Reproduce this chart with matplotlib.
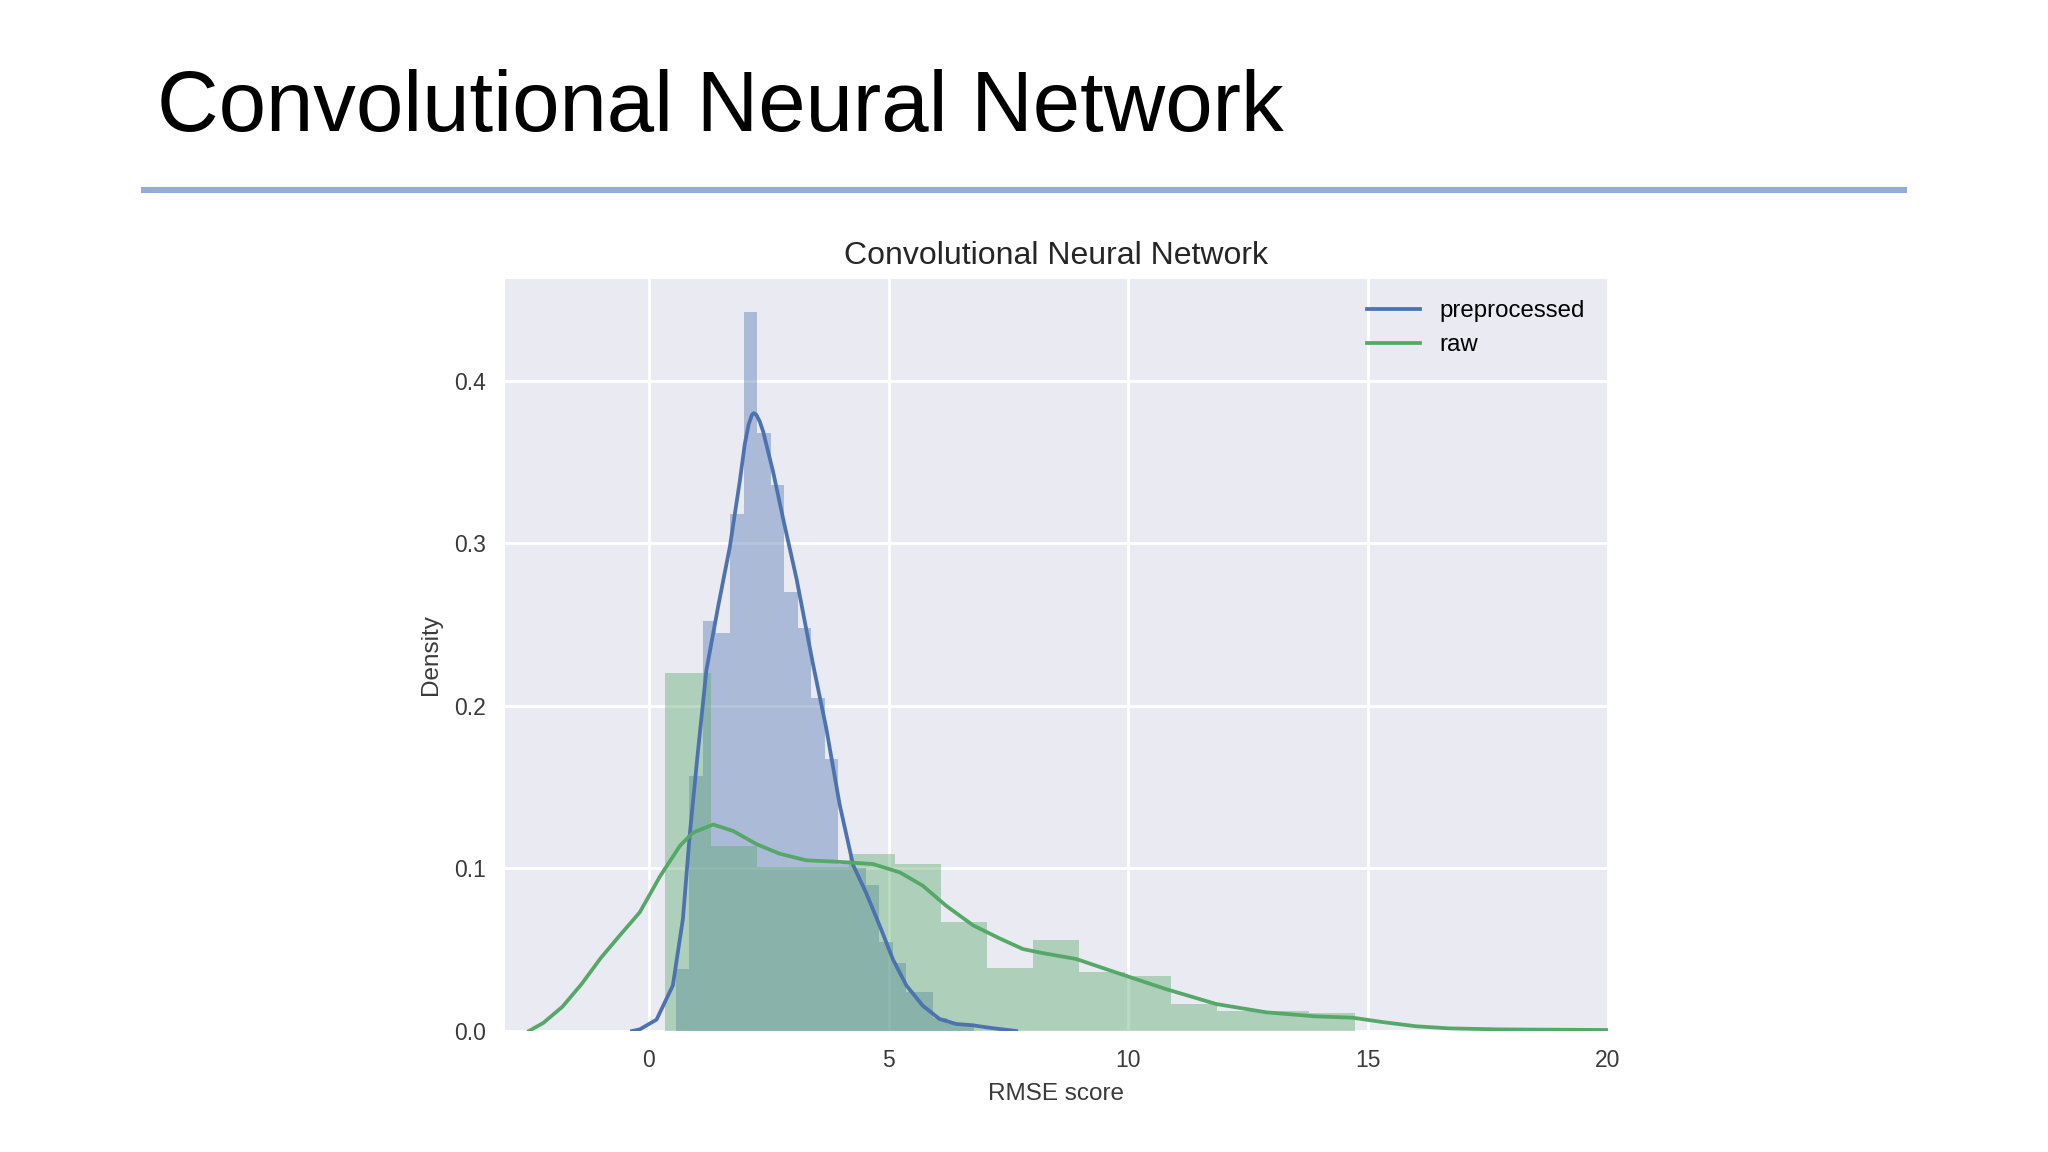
import matplotlib
matplotlib.use("Agg")
import matplotlib.pyplot as plt
from matplotlib.lines import Line2D
import numpy as np

# histogram of the RMSE scores, density per bin
pre_bin_start = 0.5625
pre_bin_width = 0.2825
pre_hist = [0.038, 0.157, 0.252, 0.245, 0.318, 0.442, 0.368, 0.336, 0.270, 0.248,
            0.205, 0.167, 0.103, 0.100, 0.090, 0.055, 0.042, 0.024, 0.024, 0.008,
            0.004, 0.004]

raw_bin_start = 0.33
raw_bin_width = 0.96
raw_hist = [0.220, 0.114, 0.101, 0.101, 0.109, 0.1027, 0.067, 0.039, 0.056, 0.0365,
            0.034, 0.0166, 0.012, 0.012, 0.011]

# kde curves
pre_kde_x = [-0.35, -0.19, 0.16, 0.5, 0.71, 0.85, 1.02, 1.2, 1.45, 1.69, 1.9, 2.0,
             2.08, 2.15, 2.19, 2.24, 2.31, 2.38, 2.59, 2.8, 3.08, 3.42, 3.7, 3.98,
             4.26, 4.53, 4.81, 5.09, 5.37, 5.71, 6.06, 6.41, 6.76, 7.1, 7.66]
pre_kde_y = [0.0, 0.001, 0.007, 0.028, 0.069, 0.12, 0.171, 0.222, 0.262, 0.298, 0.339,
             0.361, 0.373, 0.379, 0.380, 0.379, 0.375, 0.369, 0.344, 0.315, 0.278,
             0.226, 0.186, 0.139, 0.102, 0.085, 0.065, 0.044, 0.028, 0.0156, 0.0074,
             0.0043, 0.0035, 0.002, 0.0]

raw_kde_x = [-2.5, -2.2, -1.8, -1.4, -1.0, -0.6, -0.19, 0.23, 0.65, 0.92, 1.34, 1.76,
             2.24, 2.73, 3.28, 3.98, 4.67, 5.23, 5.71, 6.2, 6.76, 7.31, 7.8, 8.2, 8.91,
             9.74, 10.78, 11.83, 12.87, 13.9, 14.67, 15.3, 16.0, 16.7, 17.7, 20.0]
raw_kde_y = [0.0, 0.005, 0.015, 0.029, 0.045, 0.059, 0.073, 0.095, 0.114, 0.122, 0.127,
             0.123, 0.115, 0.109, 0.105, 0.104, 0.1027, 0.0976, 0.0894, 0.077, 0.065,
             0.057, 0.0504, 0.048, 0.0443, 0.036, 0.0258, 0.0166, 0.0115, 0.009, 0.0082,
             0.0055, 0.0029, 0.0016, 0.001, 0.0006]

labels = ["preprocessed", "raw"]
slide_title = "Convolutional Neural Network"

BLUE = "#4C72B0"
GREEN = "#55A868"
FONT = "Liberation Sans"
W, H = 2048, 1152


def main():
  plt.rcParams['font.family'] = [FONT, 'DejaVu Sans']
  fig = plt.figure(figsize=(W / 100, H / 100), dpi=100)
  fig.patch.set_facecolor("white")

  # slide heading and rule
  fig.text(157 / W, 1 - 131 / H, slide_title, fontsize=61.3, color="black",
           va="baseline", ha="left")
  fig.add_artist(Line2D([141 / W, 1907 / W], [1 - 190 / H, 1 - 190 / H],
                        color="#94ACDB", linewidth=4.4, solid_capstyle="butt"))

  left, right, top, bottom = 505, 1608, 279, 1031
  ax = fig.add_axes([left / W, 1 - bottom / H, (right - left) / W, (bottom - top) / H])
  ax.set_facecolor("#EAEAF2")
  for s in ax.spines.values():
    s.set_visible(False)
  ax.grid(True, color="white", linewidth=2.0)
  ax.set_axisbelow(True)

  pre_edges = pre_bin_start + pre_bin_width * np.arange(len(pre_hist))
  raw_edges = raw_bin_start + raw_bin_width * np.arange(len(raw_hist))

  ax.bar(pre_edges, pre_hist, width=pre_bin_width, align="edge",
         color=BLUE, alpha=0.4, linewidth=0)
  ax.plot(pre_kde_x, pre_kde_y, color=BLUE, linewidth=2.7, label=labels[0],
          solid_joinstyle="round")
  ax.bar(raw_edges, raw_hist, width=raw_bin_width, align="edge",
         color=GREEN, alpha=0.4, linewidth=0)
  ax.plot(raw_kde_x, raw_kde_y, color=GREEN, linewidth=2.7, label=labels[1],
          solid_joinstyle="round")

  ax.set_xlim(-3.0, 20.0)
  ax.set_ylim(0, 0.4625)
  ax.set_xticks([0, 5, 10, 15, 20])
  ax.set_yticks([0.0, 0.1, 0.2, 0.3, 0.4])
  ax.set_yticklabels(["0.0", "0.1", "0.2", "0.3", "0.4"])
  ax.tick_params(axis="both", length=0, labelsize=16.5, labelcolor="#3a3a3a")
  ax.tick_params(axis="x", pad=13)
  ax.tick_params(axis="y", pad=13.5)

  ax.set_xlabel("RMSE score", fontsize=17.5, color="#3a3a3a")
  ax.set_ylabel("Density", fontsize=17.5, color="#3a3a3a")
  ax.xaxis.set_label_coords(0.5, -0.084)
  ax.yaxis.set_label_coords(-0.067, 0.5)
  ax.xaxis.label.set_va("center")
  ax.yaxis.label.set_va("center")

  ax.set_title(slide_title, fontsize=23, color="#262626", pad=11)

  ax.legend(loc="upper left", frameon=False, fontsize=17.3,
            bbox_to_anchor=((1367 - left) / (right - left), (bottom - 300) / (bottom - top)),
            borderaxespad=0, borderpad=0, handlelength=2.2, handletextpad=0.8,
            labelspacing=0.52)

  fig.savefig("out.png", dpi=100, facecolor="white")


if __name__ == '__main__':
  main()
